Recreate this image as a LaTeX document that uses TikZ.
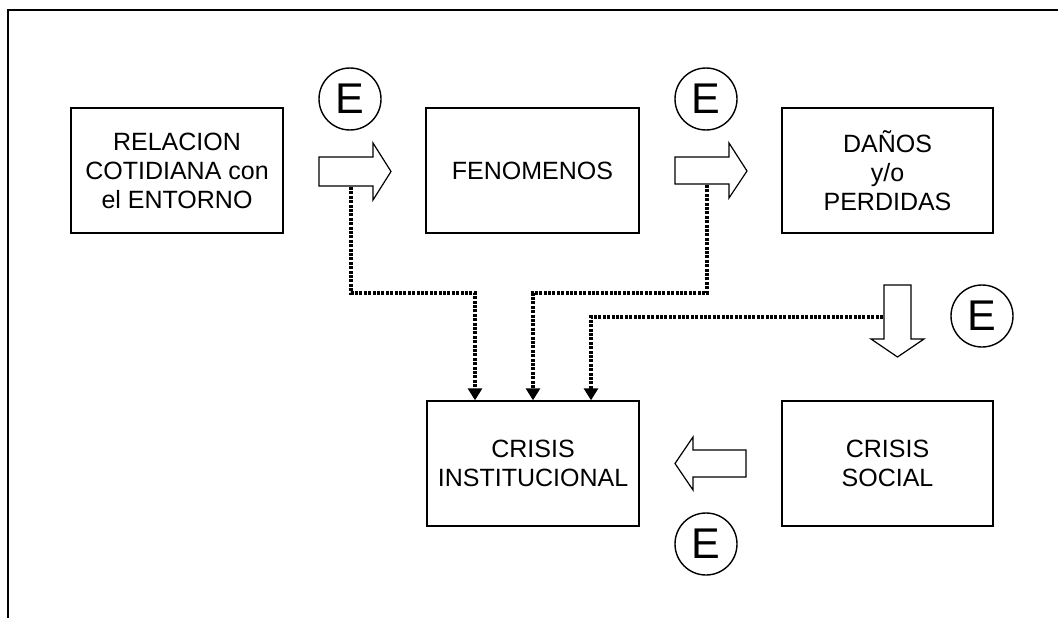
\documentclass[tikz,border=0pt]{standalone}
\usepackage{fontspec}
\setmainfont{Liberation Sans}
\usetikzlibrary{arrows.meta}
\begin{document}
\begin{tikzpicture}[x=1pt,y=-1pt,
  box/.style={draw, line width=1.4pt, minimum height=125pt, align=center, font=\fontsize{25}{29}\selectfont, inner sep=0pt},
  ecirc/.style={draw, circle, line width=1.4pt, minimum size=62pt, inner sep=0pt, font=\fontsize{43}{43}\selectfont},
  blockarrow/.style={draw, line width=1.2pt, fill=white, line join=miter},
  dots/.style={line width=3.6pt, dash pattern=on 3pt off 1.4pt, -{Triangle[width=14pt,length=12pt]}},
  frameline/.style={line width=1.5pt}]
\useasboundingbox (0,0) rectangle (1058,618);
\draw[frameline] (8,618) -- (8,10) -- (1058,10);

% boxes
\node[box, minimum width=212pt] (rel) at (177,170.5) {RELACION\\COTIDIANA con\\el ENTORNO};
\node[box, minimum width=213pt] (fen) at (532.5,170.5) {FENOMENOS};
\node[box, minimum width=211pt] (dan) at (887.5,170.5) {DAÑOS\\y/o\\PERDIDAS};
\node[box, minimum width=212pt] (ins) at (533,463.5) {CRISIS\\INSTITUCIONAL};
\node[box, minimum width=211pt] (soc) at (887.5,463.5) {CRISIS\\SOCIAL};

% E circles
\node[ecirc] (e1) at (350,99) {E};
\node[ecirc] (e2) at (706,99) {E};
\node[ecirc] (e3) at (982,316) {E};
\node[ecirc] (e4) at (706,544) {E};

% block arrows
\draw[blockarrow] (319,157) -- (373,157) -- (373,143) -- (391,171.5) -- (373,200) -- (373,186) -- (319,186) -- cycle;
\draw[blockarrow] (675,157) -- (729,157) -- (729,143) -- (747,171) -- (729,198) -- (729,184) -- (675,184) -- cycle;
\draw[blockarrow] (884,285) -- (911,285) -- (911,339) -- (924,339) -- (897.5,357) -- (871,339) -- (884,339) -- cycle;
\draw[blockarrow] (746,450) -- (693,450) -- (693,437) -- (675,463.5) -- (693,490) -- (693,477) -- (746,477) -- cycle;

% connector ends
\coordinate (a1s) at (351,187);
\coordinate (a2s) at (707,185);
\coordinate (a3w) at (883,317);
\coordinate (pA) at (475,293);
\coordinate (pB) at (533,293);
\coordinate (pC) at (591,317);

% dotted connectors
\draw[dots] (a1s) |- (pA) -- (pA |- ins.north);
\draw[dots] (a2s) |- (pB) -- (pB |- ins.north);
\draw[dots] (a3w) -- (pC) -- (pC |- ins.north);
\end{tikzpicture}
\end{document}
